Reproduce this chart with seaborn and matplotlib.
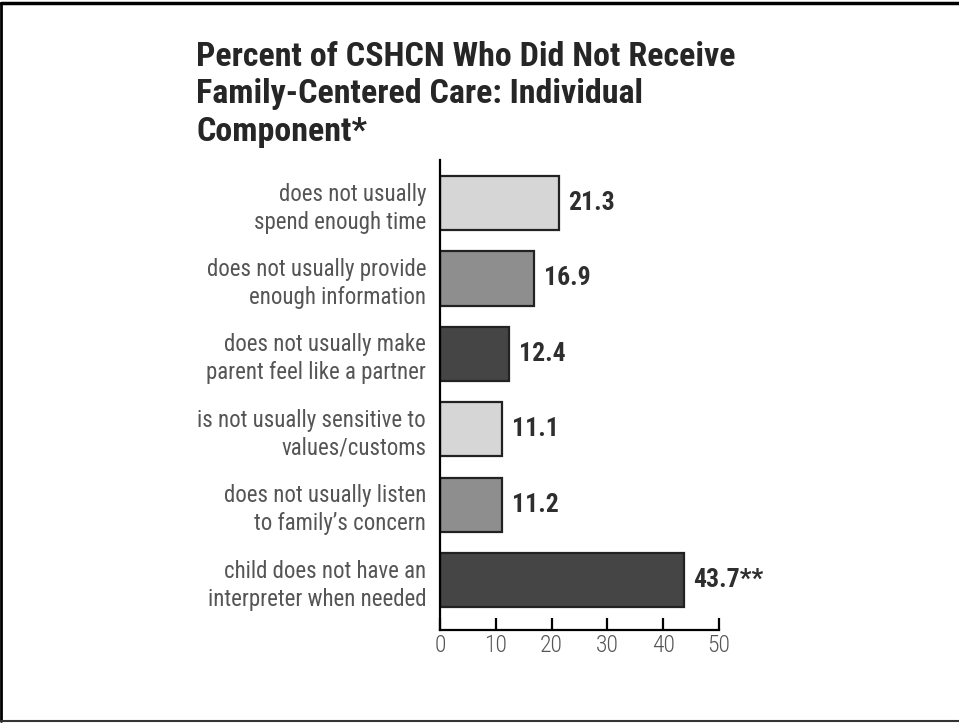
import matplotlib
matplotlib.use("Agg")
import matplotlib.pyplot as plt
import seaborn as sns
import pandas as pd
from matplotlib.lines import Line2D

# data
components = [
    "does not usually\nspend enough time",
    "does not usually provide\nenough information",
    "does not usually make\nparent feel like a partner",
    "is not usually sensitive to\nvalues/customs",
    "does not usually listen\nto family\u2019s concern",
    "child does not have an\ninterpreter when needed",
]
percent = [21.3, 16.9, 12.4, 11.1, 11.2, 43.7]
value_labels = ["21.3", "16.9", "12.4", "11.1", "11.2", "43.7**"]
bar_colors = ["#d6d6d6", "#8e8e8e", "#454545", "#d6d6d6", "#8e8e8e", "#454545"]
x_ticks = [0, 10, 20, 30, 40, 50]

sns.set_style("white")
plt.rcParams['font.family'] = ['Roboto Condensed', 'DejaVu Sans']

df = pd.DataFrame({'component': components, 'percent': percent})

fig = plt.figure(figsize=(9.59, 7.23), dpi=100)
ax = fig.add_axes([440 / 959, 1 - 630 / 723, 279 / 959, 470 / 723])

sns.barplot(data=df, x='percent', y='component', hue='component',
            palette=bar_colors, orient='h', width=0.72, legend=False,
            edgecolor='#222222', linewidth=1.6, ax=ax)

for i, (v, lab) in enumerate(zip(percent, value_labels)):
    ax.annotate(lab, xy=(v, i), xytext=(7, 0), textcoords='offset points',
                va='center', ha='left', fontsize=18.5, fontweight='bold',
                color='#2e2e2e')

ax.set_xlim(0, 50)
ax.set_ylim(5.66, -0.57)
ax.set_xticks(x_ticks)
ax.set_xlabel('')
ax.set_ylabel('')

for s in ['top', 'right']:
    ax.spines[s].set_visible(False)
for s in ['left', 'bottom']:
    ax.spines[s].set_color('black')
    ax.spines[s].set_linewidth(1.6)

ax.tick_params(axis='x', direction='in', length=9, width=1.6, color='black',
               labelsize=17, labelcolor='#555555', pad=3, bottom=True)
ax.tick_params(axis='y', length=0, labelsize=16.5, labelcolor='#555555', pad=10)
for t in ax.get_xticklabels():
    t.set_fontweight('light')
for t in ax.get_yticklabels():
    t.set_linespacing(1.28)
    t.set_horizontalalignment('right')
    t.set_multialignment('right')

fig.text(196 / 959, 1 - 41 / 723,
         "Percent of CSHCN Who Did Not Receive\nFamily-Centered Care: Individual\nComponent*",
         ha='left', va='top', fontsize=24.5, fontweight='bold', color='#262626',
         linespacing=1.22)

# frame around the page
fig.add_artist(Line2D([0.0015, 1.0], [1 - 3 / 723, 1 - 3 / 723], transform=fig.transFigure,
                      color='black', linewidth=2.5))
fig.add_artist(Line2D([0.0015, 0.0015], [1 - 3 / 723, 1 - 721 / 723], transform=fig.transFigure,
                      color='black', linewidth=2.0))
fig.add_artist(Line2D([0.0015, 1.0], [1 - 721 / 723, 1 - 721 / 723], transform=fig.transFigure,
                      color='#333333', linewidth=1.5))

fig.savefig("out.png", dpi=100)
